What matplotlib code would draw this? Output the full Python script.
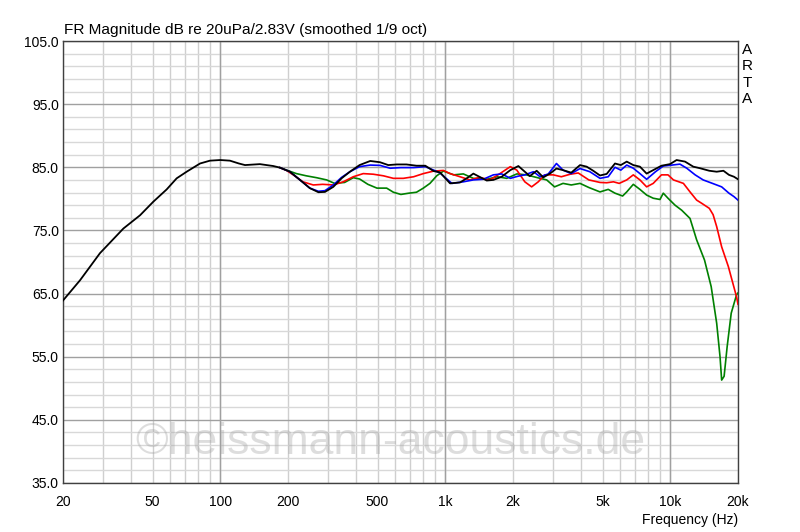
import matplotlib
matplotlib.use("Agg")
from matplotlib import pyplot as plt
from matplotlib.ticker import FixedLocator, LogLocator, NullFormatter

plt.rcParams['font.family'] = ['Liberation Sans', 'DejaVu Sans']

# black curve (the other three coincide with it below ~185 Hz)
black_f = [20, 23.8, 29.2, 37.1, 44, 50.4, 57.8, 64, 70.9, 81.3, 90, 100, 110.4, 121, 128.8,
           150, 172, 184, 204, 226, 250, 273, 292, 318, 346, 377, 416, 464, 513, 558, 608, 672,
           745, 815, 888, 947, 1050, 1163, 1245, 1333, 1418, 1529, 1636, 1781, 1946, 2113, 2257,
           2375, 2549, 2727, 2918, 3120, 3337, 3630, 3971, 4250, 4545, 4872, 5218, 5680, 6030,
           6405, 6850, 7330, 7852, 8400, 9140, 9970, 10670, 11630, 12650, 13560, 14910, 16080,
           17230, 18230, 19200, 20000]
black_db = [63.9, 67.1, 71.4, 75.3, 77.4, 79.55, 81.5, 83.25, 84.3, 85.6, 86.05, 86.15, 86.05, 85.6, 85.35,
            85.5, 85.2, 84.95, 84.3, 83.0, 81.7, 81.05, 81.1, 81.9, 83.25, 84.3, 85.35, 86.0, 85.8, 85.35, 85.45, 85.45,
            85.25, 85.25, 84.4, 84.2, 82.45, 82.6, 83.25, 84.0, 83.5, 82.9, 83.0, 83.5, 84.55, 85.2, 84.3,
            83.6, 84.45, 83.4, 84.0, 84.8, 84.55, 84.15, 85.35, 85.1, 84.45, 83.7, 83.95, 85.6, 85.35,
            85.9, 85.35, 85.1, 84.0, 84.55, 85.25, 85.5, 86.15, 85.9, 85.1, 84.85, 84.45, 84.3,
            84.45, 83.8, 83.5, 83.1]

blue_f = [184, 204, 226, 250, 273, 292, 318, 346, 377, 416, 464, 513, 569, 635, 723, 815, 888, 947,
          1070, 1203, 1333, 1475, 1636, 1781, 1946, 2113, 2257, 2467, 2640, 2870, 3120, 3337, 3630,
          3971, 4390, 4872, 5300, 5680, 6030, 6405, 6850, 7330, 7852, 8600, 9310, 10170, 11040,
          11840, 12900, 14000, 15400, 16920, 18230, 19200, 20000]
blue_db = [84.95, 84.3, 83.0, 81.7, 81.2, 81.3, 82.2, 83.4, 84.3, 85.1, 85.35, 85.3, 84.85, 84.95, 84.95, 85.1, 84.55, 84.1,
           82.45, 82.7, 83.0, 83.1, 83.8, 83.95, 83.25, 83.6, 83.8, 84.3, 83.5, 83.95, 85.6, 84.55, 84.0,
           84.8, 84.3, 83.25, 83.5, 85.0, 84.55, 85.35, 84.85, 84.0, 83.1, 84.3, 85.2, 85.35, 85.5,
           84.85, 83.8, 83.0, 82.45, 81.9, 80.9, 80.35, 79.8]

red_f = [184, 197, 211, 233, 259, 285, 318, 352, 390, 432, 479, 531, 588, 651, 723, 799, 888, 981,
         1050, 1163, 1287, 1418, 1580, 1750, 1946, 2080, 2257, 2420, 2590, 2770, 3020, 3279, 3590,
         3900, 4345, 4872, 5218, 5590, 5930, 6405, 6850, 7330, 7852, 8400, 9140, 9770, 10330,
         11440, 12240, 13100, 13790, 14910, 15500, 16080, 16920, 18110, 19700, 20000]
red_db = [84.95, 84.5, 83.8, 82.7, 82.2, 82.3, 82.2, 82.7, 83.5, 84.0, 83.9, 83.65, 83.25, 83.25, 83.5, 84.0, 84.4, 84.5,
          84.0, 83.5, 83.0, 83.4, 83.0, 84.0, 85.1, 84.55, 82.7, 81.9, 82.7, 83.8, 83.8, 83.5, 83.9,
          84.1, 83.0, 82.6, 82.55, 82.7, 82.45, 83.0, 83.8, 83.0, 81.9, 82.45, 83.8, 83.8, 83.0,
          82.45, 81.1, 79.8, 79.3, 78.5, 77.5, 75.6, 72.4, 69.3, 64.5, 63.3]

green_f = [184, 197, 218, 241, 268, 297, 322, 357, 390, 416, 453, 497, 549, 588, 635, 689, 745, 799,
           855, 916, 981, 1090, 1203, 1333, 1529, 1700, 1876, 2080, 2290, 2640, 2823, 3060, 3337,
           3630, 3971, 4345, 4872, 5300, 5680, 6140, 6405, 6850, 7330, 7852, 8400, 9000, 9311,
           9770, 10500, 11240, 12240, 13100, 14200, 15200, 16080, 16640, 16920, 17350, 17900,
           18660, 19700, 20000]
green_db = [84.95, 84.55, 84.0, 83.65, 83.35, 83.0, 82.45, 82.6, 83.35, 83.15, 82.3, 81.7, 81.7, 81.05, 80.7, 80.9, 81.05, 81.7,
            82.45, 83.65, 84.4, 83.8, 83.95, 83.25, 83.1, 83.5, 83.25, 83.95, 83.8, 83.25, 83.0, 81.9, 82.45,
            82.2, 82.45, 81.8, 81.1, 81.5, 80.9, 80.45, 81.1, 82.3, 81.5, 80.6, 80.1, 79.9, 80.9,
            80.1, 79.0, 78.2, 76.9, 73.5, 70.3, 66.1, 60.3, 55.0, 51.3, 51.9, 56.6,
            61.9, 64.8, 65.1]

x_ticks = [20, 50, 100, 200, 500, 1000, 2000, 5000, 10000, 20000]
x_labels = ['20', '50', '100', '200', '500', '1k', '2k', '5k', '10k', '20k']
y_ticks = [35, 45, 55, 65, 75, 85, 95, 105]

fig = plt.figure(figsize=(8, 5.32), dpi=100)
ax = fig.add_axes([63 / 800, 49 / 532, 675 / 800, 442 / 532])

ax.plot(green_f, green_db, color='#008000', lw=1.2, zorder=3)
ax.plot(red_f, red_db, color='#ff0000', lw=1.2, zorder=4)
ax.plot(blue_f, blue_db, color='#0000ff', lw=1.2, zorder=5)
ax.plot(black_f, black_db, color='#000000', lw=1.3, zorder=6)

ax.set_xscale('log')
ax.set_xlim(20, 20000)
ax.set_ylim(35, 105)

ax.set_xticks(x_ticks)
ax.set_xticklabels(x_labels)
ax.xaxis.set_minor_locator(LogLocator(base=10, subs=range(1, 10), numticks=20))
ax.xaxis.set_minor_formatter(NullFormatter())
ax.set_yticks(y_ticks)
ax.set_yticklabels(['%.1f' % v for v in y_ticks])
ax.yaxis.set_minor_locator(FixedLocator(range(35, 106, 2)))

ax.tick_params(which='both', length=0, labelsize=10)
ax.tick_params(axis='x', pad=9)
ax.tick_params(axis='y', pad=3)

ax.grid(which='minor', axis='x', color='#cfcfcf', lw=1)
ax.grid(which='minor', axis='y', color='#d8d8d8', lw=1)
ax.grid(which='major', axis='y', color='#a0a0a0', lw=1)
ax.grid(which='major', axis='x', color='#cfcfcf', lw=1)
for d in [100, 1000, 10000]:
    ax.axvline(d, color='#a0a0a0', lw=1, zorder=1)
ax.set_axisbelow(True)

for s in ax.spines.values():
    s.set_color('#404040')
    s.set_linewidth(1)

fig.text(64 / 800, 1 - 34 / 532, 'FR Magnitude dB re 20uPa/2.83V (smoothed 1/9 oct)',
         fontsize=11.1, va='baseline', ha='left')
fig.text(738 / 800, 1 - 520 / 532, 'Frequency (Hz)', fontsize=10, ha='right', va='center')
for i, ch in enumerate('ARTA'):
    fig.text(747 / 800, 1 - (50 + 16.3 * i) / 532, ch, fontsize=11, ha='center', va='center')

fig.text(390 / 800, 1 - 443 / 532, '\u00a9heissmann-acoustics.de', fontsize=32,
         color='#a0a0a0', alpha=0.35, ha='center', va='center', zorder=2)

fig.savefig('out.png', dpi=100)
